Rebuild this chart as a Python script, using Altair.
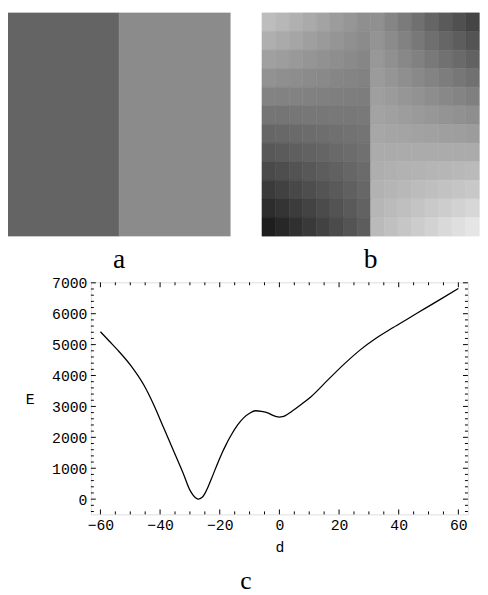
import altair as alt
import pandas as pd

# ---------------- data ----------------
# image a: two flat halves, gray level 0..255
img_a_gray = [100, 139]

# image b: 12 rows (top->bottom) x 16 columns (8 left half, 8 right half), gray 0..255
img_b_rows = [
    [189, 183, 176, 170, 163, 156, 150, 143, 144, 133, 123, 112, 101, 90, 80, 69],
    [175, 170, 165, 159, 154, 149, 144, 139, 148, 139, 130, 120, 111, 102, 93, 84],
    [160, 157, 153, 149, 145, 142, 138, 134, 152, 144, 136, 129, 121, 113, 106, 98],
    [146, 143, 141, 139, 137, 134, 132, 130, 155, 149, 143, 137, 131, 125, 119, 113],
    [131, 130, 130, 129, 128, 127, 126, 125, 159, 155, 150, 146, 141, 136, 132, 127],
    [117, 117, 118, 119, 119, 120, 120, 121, 163, 160, 157, 154, 151, 148, 145, 142],
    [102, 104, 106, 108, 110, 112, 114, 116, 167, 165, 164, 162, 161, 159, 158, 156],
    [88, 91, 95, 98, 101, 105, 108, 112, 171, 171, 171, 171, 171, 171, 171, 171],
    [74, 78, 83, 88, 93, 97, 102, 107, 174, 176, 178, 179, 181, 182, 184, 186],
    [59, 65, 72, 78, 84, 90, 96, 103, 178, 181, 184, 188, 191, 194, 197, 200],
    [45, 52, 60, 67, 75, 83, 90, 98, 182, 187, 191, 196, 201, 205, 210, 215],
    [30, 39, 48, 57, 66, 75, 84, 93, 186, 192, 198, 204, 210, 217, 223, 229],
]

# curve c: E(d)
curve_d = [-60, -57, -54.2, -49.8, -45.4, -42.1, -38.8, -35.5, -32.2, -30, -29, -28,
           -27.2, -26, -25, -24, -23, -22, -21, -20, -19, -18, -17, -16, -14, -12,
           -10, -8, -6, -3.7, -2, -1, 0, 1, 2, 4, 7.8, 10.6, 16.1, 21.6, 27.1, 32.5,
           38, 43.5, 49, 54.5, 60]
curve_E = [5415, 5110, 4823, 4321, 3685, 3048, 2307, 1565, 821, 293, 140, 40,
           3, 50, 180, 380, 610, 850, 1090, 1320, 1540, 1740, 1930, 2100, 2400, 2630,
           2780, 2860, 2840, 2784, 2700, 2670, 2657, 2668, 2705, 2830, 3102, 3315, 3843, 4360, 4830, 5215,
           5545, 5862, 6180, 6497, 6815]

x_major = [-60, -40, -20, 0, 20, 40, 60]
y_major = [0, 1000, 2000, 3000, 4000, 5000, 6000, 7000]
x_minor = [v for v in range(-60, 61, 5) if v not in x_major]
y_minor = [v for v in range(-400, 7001, 200) if v not in y_major]

panel_labels = ["a", "b"]

# ---------------- layout ----------------
W, H = 383.4, 236
PAD = {"left": 84.3, "top": 274, "right": 12.3, "bottom": 76}
IMG_A_X = [-84.3, 141.7]
IMG_B_X = [174, 395]
IMG_Y = [-274, -47]
NC = len(img_b_rows[0])
NR = len(img_b_rows)
MONO = "Liberation Mono"
SERIF = "Liberation Serif"

xs = alt.Scale(domain=[-63.2, 63.2], nice=False, zero=False)
ys = alt.Scale(domain=[-493, 7016], nice=False, zero=False)
gray = alt.Scale(domain=[0, 255], range=["#000000", "#ffffff"], interpolate="rgb")

# image a
df_a = pd.DataFrame({"x0": [0, NC / 2], "x1": [NC / 2, NC], "y0": [0, 0], "y1": [NR, NR], "g": img_a_gray})
# image b
rows = []
for r, vals in enumerate(img_b_rows):
    for c, g in enumerate(vals):
        rows.append({"x0": c, "x1": c + 1, "y0": r, "y1": r + 1, "g": g})
df_b = pd.DataFrame(rows)


def image_layer(df, xrange):
    sx = alt.Scale(domain=[0, NC], range=xrange, nice=False, zero=False)
    sy = alt.Scale(domain=[0, NR], range=IMG_Y, nice=False, zero=False)
    return alt.Chart(df).mark_rect(strokeWidth=0.6).encode(
        x=alt.X("x0:Q", scale=sx, axis=None),
        x2="x1:Q",
        y=alt.Y("y0:Q", scale=sy, axis=None),
        y2="y1:Q",
        color=alt.Color("g:Q", scale=gray, legend=None),
        stroke=alt.Stroke("g:Q", scale=gray, legend=None),
    )


def label_layer(text, xrange):
    sx = alt.Scale(domain=[0, NC], range=xrange, nice=False, zero=False)
    return alt.Chart(pd.DataFrame({"t": [text], "c": [NC / 2]})).mark_text(
        font=SERIF, fontSize=28, baseline="alphabetic", align="center", color="black"
    ).encode(x=alt.X("c:Q", scale=sx, axis=None), y=alt.value(-15), text="t:N")


def xticks(vals, ln, top):
    ch = alt.Chart(pd.DataFrame({"v": vals})).mark_rule(color="black", strokeWidth=1)
    if top:
        return ch.encode(x=alt.X("v:Q", scale=xs, axis=None), y=alt.value(0), y2=alt.value(ln))
    return ch.encode(x=alt.X("v:Q", scale=xs, axis=None), y=alt.value(H), y2=alt.value(H - ln))


def yticks(vals, ln, right):
    ch = alt.Chart(pd.DataFrame({"v": vals})).mark_rule(color="black", strokeWidth=1)
    if right:
        return ch.encode(y=alt.Y("v:Q", scale=ys, axis=None), x=alt.value(W), x2=alt.value(W - ln))
    return ch.encode(y=alt.Y("v:Q", scale=ys, axis=None), x=alt.value(0), x2=alt.value(ln))


curve = alt.Chart(pd.DataFrame({"d": curve_d, "E": curve_E})).mark_line(
    color="black", strokeWidth=1.3, interpolate="monotone"
).encode(
    x=alt.X("d:Q", scale=xs, title="d",
            axis=alt.Axis(values=x_major, format="d", ticks=False, tickSize=0, domain=False,
                          grid=False, labelFont=MONO, labelFontSize=15, labelColor="black",
                          labelPadding=3, titleFont=MONO, titleFontSize=15, titleFontWeight="normal",
                          titleColor="black", titlePadding=8)),
    y=alt.Y("E:Q", scale=ys, title="E",
            axis=alt.Axis(values=y_major, format="d", ticks=False, tickSize=0, domain=False,
                          grid=False, labelFont=MONO, labelFontSize=15, labelColor="black",
                          labelPadding=4, titleFont=MONO, titleFontSize=15, titleFontWeight="normal",
                          titleColor="black", titleAngle=0, titleAlign="center",
                          titleBaseline="middle", titleX=-62.3, titleY=H / 2)),
)

layers = [
    image_layer(df_a, IMG_A_X),
    image_layer(df_b, IMG_B_X),
    label_layer(panel_labels[0], IMG_A_X),
    label_layer(panel_labels[1], IMG_B_X),
    curve,
    xticks(x_major, 5, False), xticks(x_minor, 3, False),
    xticks(x_major, 5, True), xticks(x_minor, 3, True),
    yticks(y_major, 5, False), yticks(y_minor, 3, False),
    yticks(y_major, 5, True), yticks(y_minor, 3, True),
]

chart = alt.layer(*layers).resolve_scale(
    x="independent", y="independent", color="shared", stroke="shared"
).properties(
    width=W, height=H, padding=PAD,
    autosize=alt.AutoSizeParams(type="none"),
    title=alt.TitleParams("c", orient="bottom", font=SERIF, fontSize=26, fontWeight="normal",
                          color="black", anchor="middle", dx=-34, offset=14),
).configure_view(stroke="black", strokeWidth=1.2).configure(background="white")

chart.save("out.html", embed_options={"renderer": "svg", "actions": False})
